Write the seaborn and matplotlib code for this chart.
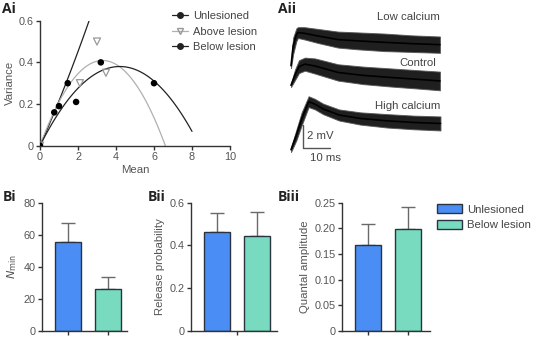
import numpy as np
import pandas as pd
import matplotlib
matplotlib.use("Agg")
import matplotlib.pyplot as plt
import seaborn as sns
from matplotlib.lines import Line2D
from matplotlib.patches import Patch

# ---- Ai: variance-mean data ----
unlesioned_mean = [0.0, 0.75, 1.0, 1.46]
unlesioned_var = [0.0, 0.16, 0.19, 0.30]
above_mean = [0.0, 2.1, 3.0, 3.47]
above_var = [0.0, 0.30, 0.50, 0.35]
below_mean = [1.9, 3.2, 6.0]
below_var = [0.21, 0.40, 0.30]

# parabola fits  var = a*mean + b*mean^2
unlesioned_fit = (0.205, 0.0105, 2.6)   # a, b, last mean drawn
above_fit = (0.248, -0.0376, 6.6)
below_fit = (0.181, -0.02155, 8.0)

# ---- Aii: envelope of the superimposed EPSPs (mV above baseline) ----
low_t = [0, 0.8, 2.0, 2.6, 5, 10, 17.6, 25, 35, 45, 55.8]
low_lo = [0, 1.2, 2.3, 2.57, 2.45, 2.15, 1.75, 1.6, 1.45, 1.38, 1.3]
low_hi = [0.4, 2.6, 3.4, 3.5, 3.5, 3.35, 3.12, 3.05, 2.95, 2.8, 2.7]

ctrl_t = [0, 1.5, 3, 5.2, 9, 17.6, 27, 37, 47, 55.8]
ctrl_lo = [0, 0.6, 1.2, 1.4, 1.15, 0.55, 0.25, 0.05, -0.12, -0.28]
ctrl_hi = [0.3, 1.5, 2.3, 2.52, 2.45, 1.95, 1.75, 1.6, 1.45, 1.32]

high_t = [0, 2, 4, 6.6, 9, 12, 18, 26, 36, 46, 56]
high_lo = [0, 1.0, 2.3, 3.85, 3.65, 3.25, 2.7, 2.35, 2.1, 1.95, 1.85]
high_hi = [0.4, 1.9, 3.4, 4.78, 4.55, 4.15, 3.65, 3.4, 3.25, 3.12, 3.05]

# ---- B: bar data (mean, sem) ----
groups = ["Unlesioned", "Below lesion"]
nmin_mean = [55.6, 25.9]
nmin_sem = [11.5, 7.9]
prob_mean = [0.464, 0.444]
prob_sem = [0.086, 0.111]
quantal_mean = [0.167, 0.199]
quantal_sem = [0.041, 0.043]

bar_colors = ["#4a8ef5", "#78dbbf"]

sns.set_theme(style="ticks")
plt.rcParams["font.family"] = ["Liberation Sans", "DejaVu Sans"]
plt.rcParams["axes.edgecolor"] = "#333333"
plt.rcParams["xtick.color"] = "#333333"
plt.rcParams["ytick.color"] = "#333333"
plt.rcParams["xtick.labelcolor"] = "#555555"
plt.rcParams["ytick.labelcolor"] = "#555555"
plt.rcParams["axes.labelcolor"] = "#555555"
plt.rcParams["axes.linewidth"] = 1.0

W, H = 546, 337
fig = plt.figure(figsize=(W / 100, H / 100), dpi=100)


def box(x0, y0, x1, y1):
    return [x0 / W, 1 - y1 / H, (x1 - x0) / W, (y1 - y0) / H]


def style_ax(ax):
    sns.despine(ax=ax)
    ax.tick_params(length=3, width=1.0, labelsize=7.8, pad=1.5)


# ---------- Ai ----------
ax = fig.add_axes(box(40, 20.7, 230, 145.7))
for (a, b, end), col in [(unlesioned_fit, "#222222"), (above_fit, "#b0b0b0"), (below_fit, "#222222")]:
    xs = np.linspace(0, end, 120)
    sns.lineplot(x=xs, y=a * xs + b * xs ** 2, color=col, lw=0.9, ax=ax)
sns.scatterplot(x=above_mean, y=above_var, marker="v", s=26, color="#999999", linewidth=0.9, ax=ax, zorder=3)
ax.collections[-1].set_facecolor("none")
ax.collections[-1].set_edgecolor("#999999")
sns.scatterplot(x=unlesioned_mean, y=unlesioned_var, s=22, color="black", edgecolor="none", ax=ax, zorder=4)
sns.scatterplot(x=below_mean, y=below_var, s=22, color="black", edgecolor="none", ax=ax, zorder=4)
ax.set_xlim(0, 10)
ax.set_ylim(0, 0.6)
ax.set_xticks([0, 2, 4, 6, 8, 10])
ax.set_yticks([0, 0.2, 0.4, 0.6])
ax.set_yticklabels(["0", "0.2", "0.4", "0.6"])
ax.set_xlabel("Mean", fontsize=8.2, labelpad=2)
ax.set_ylabel("Variance", fontsize=8.2, labelpad=3)
style_ax(ax)
for sp in ax.spines.values():
    sp.set_clip_on(False)

handles = [
    Line2D([], [], color="#222222", lw=0.9, marker="o", ms=4),
    Line2D([], [], color="#b0b0b0", lw=0.9, marker="v", ms=4.5, mfc="none", mec="#999999"),
    Line2D([], [], color="#222222", lw=0.9, marker="o", ms=4),
]
fig.legend(handles, ["Unlesioned", "Above lesion", "Below lesion"], loc="upper left",
           bbox_to_anchor=(172 / W, 1 - 11 / H), frameon=False, borderaxespad=0, borderpad=0,
           handlelength=1.4, handletextpad=0.5, labelspacing=0.5, fontsize=8,
           labelcolor="#444444")

# ---------- Aii ----------
ax2 = fig.add_axes(box(285, 10, 445, 165))
traces = []
for name, t, lo, hi, off in [("Low calcium", low_t, low_lo, low_hi, 7.2),
                             ("Control", ctrl_t, ctrl_lo, ctrl_hi, 5.57),
                             ("High calcium", high_t, high_lo, high_hi, 0.0)]:
    for ti, l, h in zip(t, lo, hi):
        traces.append((name, ti, l + off))
        traces.append((name, ti, h + off))
tr = pd.DataFrame(traces, columns=["cond", "t", "v"])
for name in ["Low calcium", "Control", "High calcium"]:
    sns.lineplot(data=tr[tr.cond == name], x="t", y="v", estimator="mean",
                 errorbar=("pi", 100), color="black", lw=1.2, ax=ax2,
                 err_kws={"alpha": 0.88, "edgecolor": "#555555", "linewidth": 0.7})
ax2.set_xlim(-2.25, 57.7)
ax2.set_ylim(-1.11, 12.17)
ax2.axis("off")
ax2.text(55.8, 11.57, "Low calcium", ha="right", va="center", fontsize=8.2, color="#444444")
ax2.text(54.5, 7.6, "Control", ha="right", va="center", fontsize=8.2, color="#444444")
ax2.text(55.8, 3.97, "High calcium", ha="right", va="center", fontsize=8.2, color="#444444")
ax2.plot([4.6, 4.6, 14.6], [2.35, 0.35, 0.35], color="#555555", lw=1.0)
ax2.text(6.0, 1.4, "2 mV", ha="left", va="center", fontsize=8.2, color="#444444")
ax2.text(13.0, -0.49, "10 ms", ha="center", va="center", fontsize=8.2, color="#444444")


# ---------- B panels ----------
def bar_panel(rect, means, sems, ymax, yticks, ylabels, xlim, xticks):
    ax = fig.add_axes(rect)
    df = pd.DataFrame({"group": groups, "value": means})
    sns.barplot(data=df, x="group", y="value", hue="group", palette=bar_colors,
                saturation=1, width=0.65, edgecolor="#2b3340", linewidth=1.0,
                errorbar=None, legend=False, ax=ax, zorder=2)
    ax.errorbar([0, 1], means, yerr=[[0, 0], sems], fmt="none", ecolor="#6a6a6a",
                elinewidth=1.0, capsize=4.7, capthick=1.0, zorder=1)
    ax.set_ylim(0, ymax)
    ax.set_yticks(yticks)
    ax.set_yticklabels(ylabels)
    ax.set_xlim(*xlim)
    ax.set_xticks(xticks)
    ax.set_xticklabels([""] * len(xticks))
    ax.set_xlabel("")
    style_ax(ax)
    return ax


bi = bar_panel(box(41.7, 202.7, 127, 330.7), nmin_mean, nmin_sem, 80,
               [0, 20, 40, 60, 80], ["0", "20", "40", "60", "80"], (-0.66, 1.47), [0, 1])
bi.set_ylabel(r"$\it{N}_{\rm min}$", fontsize=8.2, labelpad=3)

bii = bar_panel(box(190.7, 202.7, 277, 330.7), prob_mean, prob_sem, 0.6,
                [0, 0.2, 0.4, 0.6], ["0", "0.2", "0.4", "0.6"], (-0.67, 1.49), [0.5])
bii.set_ylabel("Release probability", fontsize=8.2, labelpad=3)

biii = bar_panel(box(341.7, 202.7, 430, 330.7), quantal_mean, quantal_sem, 0.25,
                 [0, 0.05, 0.10, 0.15, 0.20, 0.25], ["0", "0.05", "0.10", "0.15", "0.20", "0.25"],
                 (-0.665, 1.54), [0, 1])
biii.set_ylabel("Quantal amplitude", fontsize=8.2, labelpad=3)

fig.legend([Patch(facecolor=c, edgecolor="#2b3340", linewidth=1.0) for c in bar_colors], groups,
           loc="upper left", bbox_to_anchor=(437 / W, 1 - 204 / H), frameon=False,
           borderaxespad=0, borderpad=0, handlelength=2.2, handleheight=0.9,
           handletextpad=0.45, labelspacing=0.45, fontsize=8.2, labelcolor="#444444")

# panel letters
for txt, x, y in [("Ai", 2, 12.7), ("Aii", 278, 12.7), ("Bi", 3, 200.7),
                  ("Bii", 148, 200.7), ("Biii", 278, 200.7)]:
    fig.text(x / W, 1 - y / H, txt, fontsize=10, fontweight="bold",
             family=["Open Sans", "DejaVu Sans"], color="#222222", va="baseline", ha="left")

fig.savefig("out.png", dpi=100)
